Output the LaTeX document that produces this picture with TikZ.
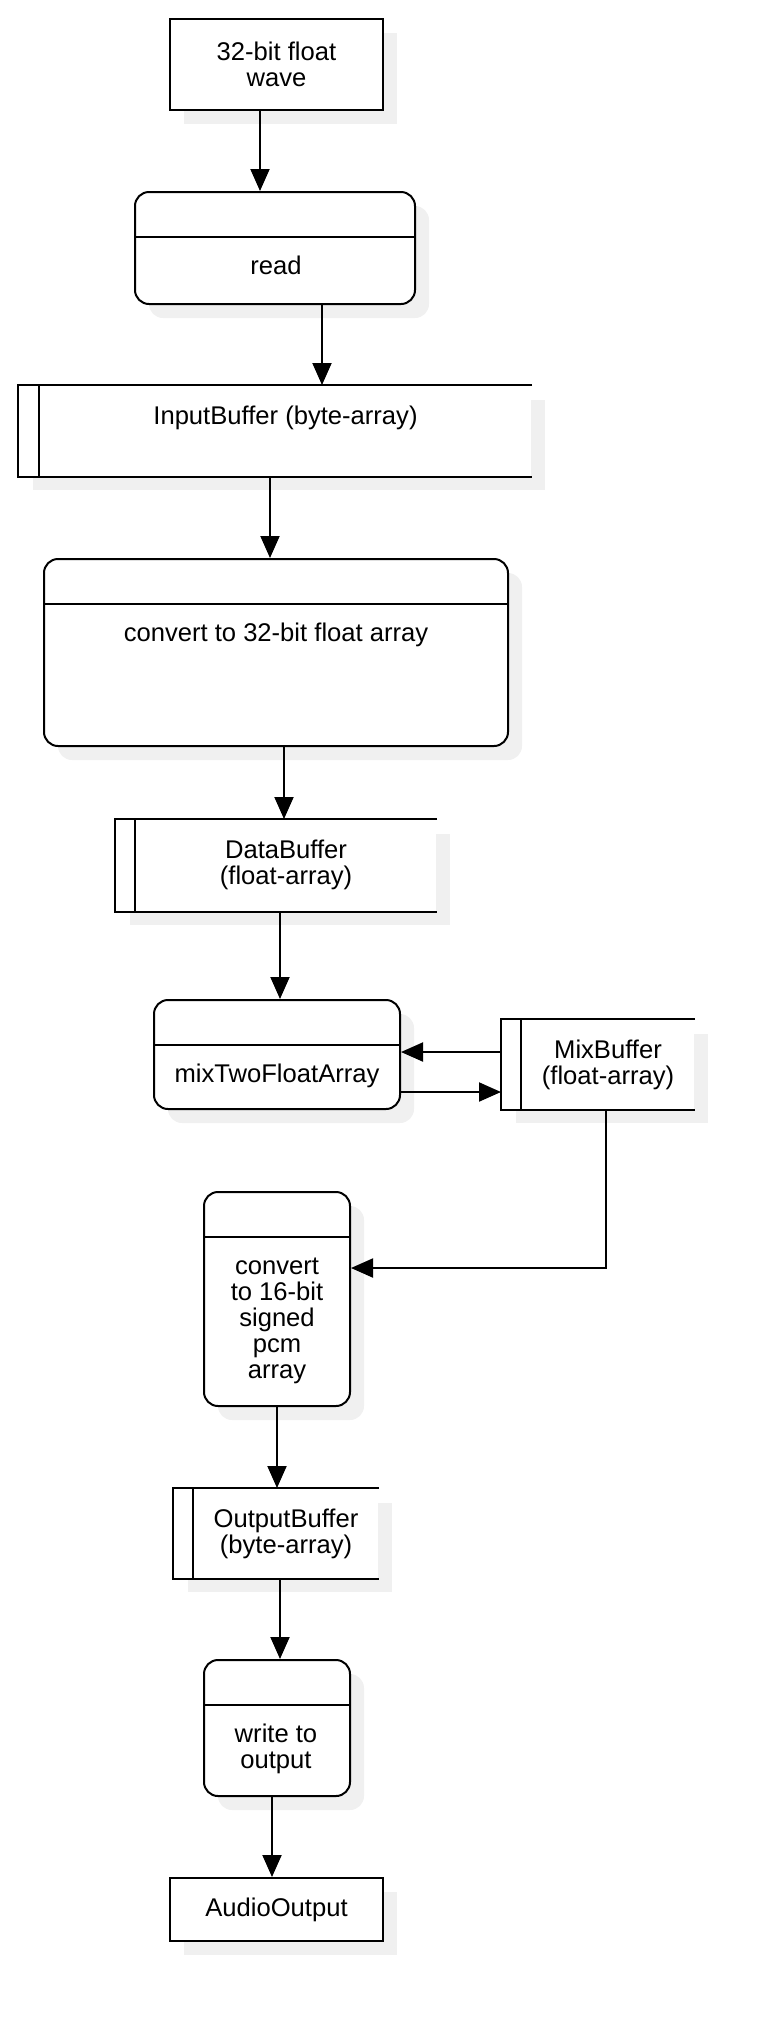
\documentclass[tikz,border=0pt]{standalone}
\usepackage{fontspec}
\setmainfont{Liberation Sans}
\usetikzlibrary{arrows.meta,calc,shadows}
\begin{document}
\begin{tikzpicture}[x=1pt,y=-1pt,
  line width=2pt,
  arr/.style={-{Triangle[length=22pt,width=19pt]}, line width=2pt},
  shad/.style={general shadow={fill=black!6, draw=none, shadow xshift=14pt, shadow yshift=-14pt}},
  plainbox/.style={rectangle, draw, fill=white, inner sep=0pt, align=center, font=\fontsize{25.6}{26}\selectfont, shad},
  procbox/.style={rectangle, rounded corners=14pt, draw, fill=white, inner sep=0pt, shad},
  bufbox/.style={rectangle, fill=white, draw=none, inner sep=0pt, shad},
  txt/.style={inner sep=0pt, align=center, anchor=north, font=\fontsize{25.6}{26}\selectfont},
]
\useasboundingbox (0,0) rectangle (774,2022);

% boxes
\node[plainbox, minimum width=213pt, minimum height=91pt] (wave) at (276.5,64.5) {32-bit float\\wave};
\node[procbox, minimum width=280pt, minimum height=112pt] (read) at (275,248) {};
\node[bufbox, minimum width=512pt, minimum height=90pt] (ib) at (275,431) {};
\node[procbox, minimum width=464pt, minimum height=187pt] (conv) at (276,652.5) {};
\node[bufbox, minimum width=320pt, minimum height=91pt] (db) at (276,865.5) {};
\node[procbox, minimum width=246pt, minimum height=109pt] (mix) at (277,1054.5) {};
\node[bufbox, minimum width=192pt, minimum height=89pt] (mb) at (598,1064.5) {};
\node[procbox, minimum width=146pt, minimum height=214pt] (c16) at (277,1299) {};
\node[bufbox, minimum width=204pt, minimum height=89pt] (ob) at (276,1533.5) {};
\node[procbox, minimum width=146pt, minimum height=136pt] (wr) at (277,1728) {};
\node[plainbox, minimum width=213pt, minimum height=63pt] (ao) at (276.5,1909.5) {AudioOutput};

% dividers
\foreach \n in {read,conv,mix,c16,wr}{
  \draw ($(\n.north west)+(0,46)$) -- ($(\n.north east)+(0,46)$);
}
% buffer outlines
\foreach \n/\d in {ib/21,db/20,mb/20,ob/20}{
  \draw[line join=miter] (\n.north east) -- (\n.north west) -- (\n.south west) -- (\n.south east);
  \draw ($(\n.north west)+(\d,0)$) -- ($(\n.south west)+(\d,0)$);
}

% texts
\node[txt] (readt) at ($(read.north)+(1,63)$) {\rule{0pt}{19pt}read};
\node[txt] (convt) at ($(conv.north)+(0,63)$) {\rule{0pt}{19pt}convert to 32-bit float array};
\node[txt] (mixt) at ($(mix.north)+(0,63)$) {\rule{0pt}{19pt}mixTwoFloatArray};
\node[txt] (c16t) at ($(c16.north)+(0,63)$) {\rule{0pt}{19pt}convert\\to 16-bit\\signed\\pcm\\array};
\node[txt] (wrt) at ($(wr.north)+(-1,63)$) {\rule{0pt}{19pt}write to\\output};
\node[txt] (ibt) at ($(ib.north)+(10.5,19)$) {\rule{0pt}{19pt}InputBuffer (byte-array)};
\node[txt] (dbt) at ($(db.north)+(10,19)$) {\rule{0pt}{19pt}DataBuffer\\(float-array)};
\node[txt] (mbt) at ($(mb.north)+(10,19)$) {\rule{0pt}{19pt}MixBuffer\\(float-array)};
\node[txt] (obt) at ($(ob.north)+(10,19)$) {\rule{0pt}{19pt}OutputBuffer\\(byte-array)};

% connectors
\coordinate (x1) at (260,0);
\coordinate (x2) at (322,0);
\coordinate (x3) at (270,0);
\coordinate (x4) at (284,0);
\coordinate (x5) at (280,0);
\coordinate (x6) at (277,0);
\coordinate (x7) at (280,0);
\coordinate (x8) at (272,0);
\coordinate (y1) at (0,1052);
\coordinate (y2) at (0,1092);
\coordinate (r1) at (606,1268);
\draw[arr] (wave.south -| x1) -- (read.north -| x1);
\draw[arr] (read.south -| x2) -- (ib.north -| x2);
\draw[arr] (ib.south -| x3) -- (conv.north -| x3);
\draw[arr] (conv.south -| x4) -- (db.north -| x4);
\draw[arr] (db.south -| x5) -- (mix.north -| x5);
\draw[arr] (mb.west |- y1) -- (mix.east |- y1);
\draw[arr] (mix.east |- y2) -- (mb.west |- y2);
\draw[arr] (mb.south -| r1) -- (r1) -- (c16.east |- r1);
\draw[arr] (c16.south -| x6) -- (ob.north -| x6);
\draw[arr] (ob.south -| x7) -- (wr.north -| x7);
\draw[arr] (wr.south -| x8) -- (ao.north -| x8);
\end{tikzpicture}
\end{document}
